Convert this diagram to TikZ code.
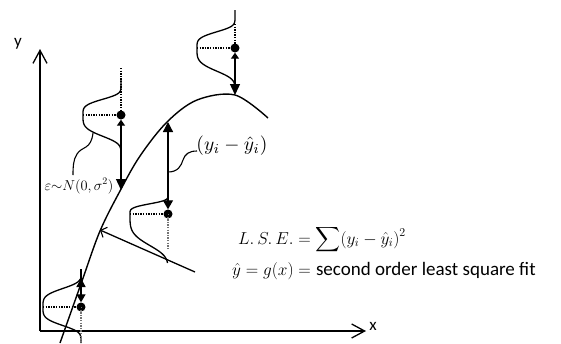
\documentclass[tikz,border=0pt]{standalone}
\usepackage{exscale}
\usepackage{graphicx}
\usepackage{fontspec}
\setsansfont{Carlito}
\usetikzlibrary{arrows.meta}
\newcommand\bellcurve[7]{%
  \draw[bellline] plot[domain=-#4:0,samples=40,smooth]
    ({#1-#3*exp(-((\x/#5)*(\x/#5)*(\x/#5)*(\x/#5)))},{#2+\x})
  -- plot[domain=0:#6,samples=40,smooth]
    ({#1-#3*exp(-((\x/#7)*(\x/#7)*(\x/#7)*(\x/#7)))},{#2+\x});}
\begin{document}
\begin{tikzpicture}[x=1pt,y=-1pt,
  axisline/.style={line width=1.3pt,-{Straight Barb[length=13pt,width=14pt,line width=1.3pt]}},
  fitline/.style={line width=1.4pt},
  bellline/.style={line width=1.3pt},
  dotline/.style={line width=1.1pt,dash pattern=on 1.3pt off 1.3pt},
  greydot/.style={line width=1.1pt,dash pattern=on 1.3pt off 1.3pt,black!55},
  datapt/.style={circle,fill=black,inner sep=0pt,minimum size=9pt},
  errline/.style={line width=1.3pt},
  bigtip/.tip={Triangle[length=11pt,width=10pt]},
  smalltip/.tip={Triangle[length=6pt,width=8pt]},
  squig/.style={line width=1.1pt},
  lbl/.style={inner sep=0pt}]
\useasboundingbox (0,0) rectangle (561,343);

% axes
\coordinate (O) at (40,331);
\coordinate (ytop) at (40,49);
\coordinate (xend) at (366,331);
\draw[axisline] (O) -- (ytop);
\draw[axisline] (O) -- (xend);
\node[lbl,font=\sffamily\fontsize{17}{20}\selectfont] (ylab) at (18,44) {y};
\node[lbl,font=\sffamily\fontsize{17}{20}\selectfont] (xlab) at (373,326) {x};

% fitted curve
\draw[fitline] plot[smooth,tension=0.55] coordinates
  {(60,343) (82,281) (100,231) (120,191) (140,156) (167,122) (197,100) (235,95) (268,118)};
\coordinate (c1) at (235,95);
\coordinate (c2) at (121,190);
\coordinate (c3) at (168,122);
\coordinate (c4) at (81,278);
\coordinate (cg) at (100,230);

% bells
\bellcurve{235}{48}{38}{38}{17.5}{45}{25}
\bellcurve{121}{115}{38}{37}{17}{38}{23}
\bellcurve{168}{214}{38}{34}{11}{49}{34}
\bellcurve{81}{307}{38}{28}{20}{36}{20}

% data points
\node[datapt] (p1) at (235,48) {};
\node[datapt] (p2) at (121,115) {};
\node[datapt] (p3) at (168,214) {};
\node[datapt] (p4) at (81,307) {};

% dotted guides
\coordinate (v1) at (235,24);
\coordinate (h1) at (197,48);
\draw[dotline] (v1) -- (p1.center);
\draw[dotline] (h1) -- (p1.center);
\coordinate (v2) at (121,68);
\coordinate (h2) at (83,115);
\draw[dotline] (v2) -- (p2.center);
\draw[dotline] (h2) -- (p2.center);
\coordinate (v3) at (168,248);
\coordinate (h3) at (130,214);
\draw[greydot] (p3.center) -- (v3);
\draw[dotline] (h3) -- (p3.center);
\coordinate (v4) at (81,343);
\coordinate (h4) at (43,307);
\draw[greydot] (p4.center) -- (v4);
\draw[dotline] (h4) -- (p4.center);

% error arrows
\draw[errline,{smalltip}-{bigtip}] (p1.south) -- (c1);
\draw[errline,{smalltip}-{bigtip}] (p2.south) -- (c2);
\draw[errline,{Triangle[length=10pt,width=10pt]}-{Triangle[length=9pt,width=10pt]}] (c3) -- (p3.north);
\coordinate (t4) at (81,269);
\coordinate (u4) at (81,290);
\draw[errline,-{Triangle[length=8pt,width=9pt]}] (t4) -- (p4.north);
\draw[errline,-{Triangle[length=9pt,width=9pt]}] (u4) -- (c4);

% labels
\node[lbl,font=\fontsize{14.5}{17}\selectfont] (eps) at (79,186) {$\varepsilon{\sim}N(0,\sigma^2)$};
\coordinate (e1) at (93,133);
\coordinate (e2) at (73,175);
\draw[squig] (e1) .. controls (91,150) and (82,146) .. (77,154) .. controls (73,160) and (73,168) .. (e2);

\node[lbl] (res) at (232,146) {\scalebox{1.95}{$(y_i-\hat{y}_i)$}};
\coordinate (r1) at (168,172);
\coordinate (r2) at (197,151);
\draw[squig] (r1) .. controls (178,172) and (181,166) .. (183,160) .. controls (185,154) and (189,151) .. (r2);

\node[lbl,anchor=base west,font=\fontsize{18}{22}\selectfont] (lse) at (238,244)
  {$L.\,S.\,E.=\displaystyle\sum(y_i-\hat{y}_i)^2$};
\node[lbl,anchor=base west,font=\fontsize{17}{22}\selectfont] (gfit) at (232,275)
  {$\hat{y}=g(x)=$ {\sffamily\fontsize{19}{22}\selectfont second order least square fit}};
\coordinate (gtail) at (195,272);
\draw[line width=1.3pt,-{Straight Barb[length=5pt,width=11pt,line width=1.1pt]}] (gtail) -- (cg);
\end{tikzpicture}
\end{document}
